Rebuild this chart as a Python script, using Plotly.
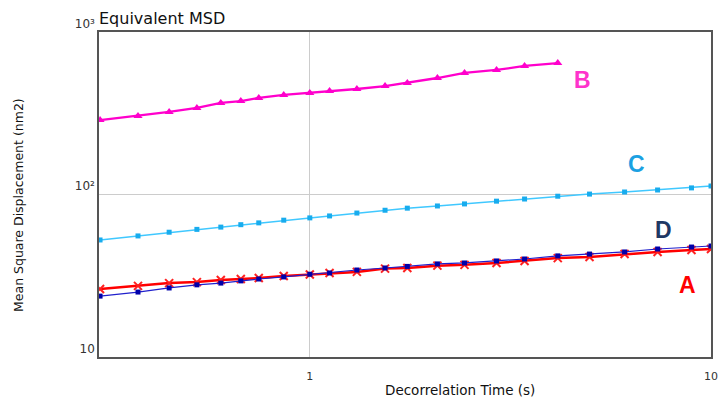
import plotly.graph_objects as go

# Data
time_s = [0.30, 0.373, 0.446, 0.523, 0.600, 0.673, 0.746, 0.861, 1.00, 1.12, 1.31, 1.54,
          1.75, 2.08, 2.43, 2.92, 3.43, 4.15, 4.98, 6.09, 7.36, 8.94, 10.0]
msd_B = [287, 304, 322, 341, 366, 376, 393, 410, 421, 434, 446, 465, 486, 521, 560, 584, 618, 644]
msd_C = [52.5, 55.6, 58.6, 61.0, 63.0, 65.2, 66.9, 69.5, 71.8, 73.8, 76.9, 80.0, 82.4, 85.0,
         87.5, 91.0, 93.8, 97.6, 100.6, 103.6, 106.6, 109.8, 112.8]
msd_A = [26.2, 27.4, 28.5, 28.9, 29.8, 30.2, 30.6, 31.5, 32.2, 32.9, 33.4, 35.0, 35.3, 36.5,
         36.9, 37.9, 39.0, 40.6, 41.2, 43.0, 44.3, 45.5, 46.2]
msd_D = [23.7, 25.1, 26.6, 27.8, 28.5, 29.4, 30.2, 31.1, 32.3, 32.9, 34.3, 35.3, 36.1, 37.4,
         37.9, 39.0, 40.1, 41.9, 43.0, 44.3, 46.2, 47.5, 48.2]

x_tickvals = [1, 10]
x_ticktext = ["1", "10"]
y_tickvals = [10, 100, 1000]
y_ticktext = ["10", "10²", "10³"]

W, H = 718, 400
L, R, T, B = 99, 711, 32, 357


def px(x):
    return (x - L) / (R - L)


def py(y):
    return (B - y) / (B - T)


fig = go.Figure()

fig.add_trace(go.Scatter(
    x=time_s[:len(msd_B)], y=msd_B, mode="lines+markers", name="B",
    line=dict(color="#FF00CC", width=2.3),
    marker=dict(symbol="triangle-up", size=8, color="#FF00CC")))
fig.add_trace(go.Scatter(
    x=time_s, y=msd_C, mode="lines+markers", name="C",
    line=dict(color="#40C8FF", width=1.5),
    marker=dict(symbol="square", size=5, color="#18ACEE")))
fig.add_trace(go.Scatter(
    x=time_s, y=msd_A, mode="lines+markers", name="A",
    line=dict(color="#FF0000", width=2.5),
    marker=dict(symbol="x-thin", size=8, color="#FF0000",
                line=dict(color="#FF2020", width=2))))
fig.add_trace(go.Scatter(
    x=time_s, y=msd_D, mode="lines+markers", name="D",
    line=dict(color="#2020CC", width=1.2),
    marker=dict(symbol="square", size=5, color="#0000AA")))

labels = [
    ("B", 582, 80, "#FF33CC"),
    ("C", 636, 164, "#1BA1E2"),
    ("D", 663, 230, "#1F3864"),
    ("A", 687, 285, "#FF0000"),
]
annotations = []
for txt, x, y, col in labels:
    annotations.append(dict(
        text="<b>%s</b>" % txt, x=px(x), y=py(y), xref="paper", yref="paper",
        xanchor="center", yanchor="middle", showarrow=False,
        font=dict(family="Liberation Sans, Arial, sans-serif", size=23, color=col)))

annotations.append(dict(
    text="Decorrelation Time (s)", x=px(460), y=py(390), xref="paper", yref="paper",
    xanchor="center", yanchor="middle", showarrow=False,
    font=dict(family="DejaVu Sans, sans-serif", size=13.5, color="#111111")))
annotations.append(dict(
    text="Mean Square Displacement (nm2)", x=px(18), y=py(205), xref="paper", yref="paper",
    xanchor="center", yanchor="middle", showarrow=False, textangle=-90,
    font=dict(family="DejaVu Sans, sans-serif", size=12.5, color="#111111")))

fig.update_layout(
    width=W, height=H,
    margin=dict(l=L, r=W - R, t=T, b=H - B, pad=0, autoexpand=False),
    paper_bgcolor="white", plot_bgcolor="white",
    showlegend=False,
    title=dict(text="Equivalent MSD", x=L / W, xanchor="left", xref="container",
               y=1 - 18 / H, yanchor="middle", yref="container",
               font=dict(family="DejaVu Sans, sans-serif", size=16, color="#111111")),
    annotations=annotations,
    xaxis=dict(
        type="log", range=[-0.5255, 1.0], tickvals=x_tickvals, ticktext=x_ticktext,
        showgrid=True, gridcolor="#CCCCCC", gridwidth=1, automargin=False,
        showline=True, linecolor="#555555", linewidth=1.5, mirror=True,
        ticks="", ticklabelstandoff=8, zeroline=False,
        tickfont=dict(family="DejaVu Sans, sans-serif", size=11, color="#333333")),
    yaxis=dict(
        type="log", range=[1, 3], tickvals=y_tickvals, ticktext=y_ticktext,
        showgrid=True, gridcolor="#CCCCCC", gridwidth=1, automargin=False,
        showline=True, linecolor="#555555", linewidth=1.5, mirror=True,
        ticks="", ticklabelposition="outside top", zeroline=False,
        tickfont=dict(family="DejaVu Sans, sans-serif", size=12, color="#333333")),
)

fig.write_html("out.html", config={"displayModeBar": False},
               post_script="document.body.style.margin='0';document.body.style.overflow='hidden';")
